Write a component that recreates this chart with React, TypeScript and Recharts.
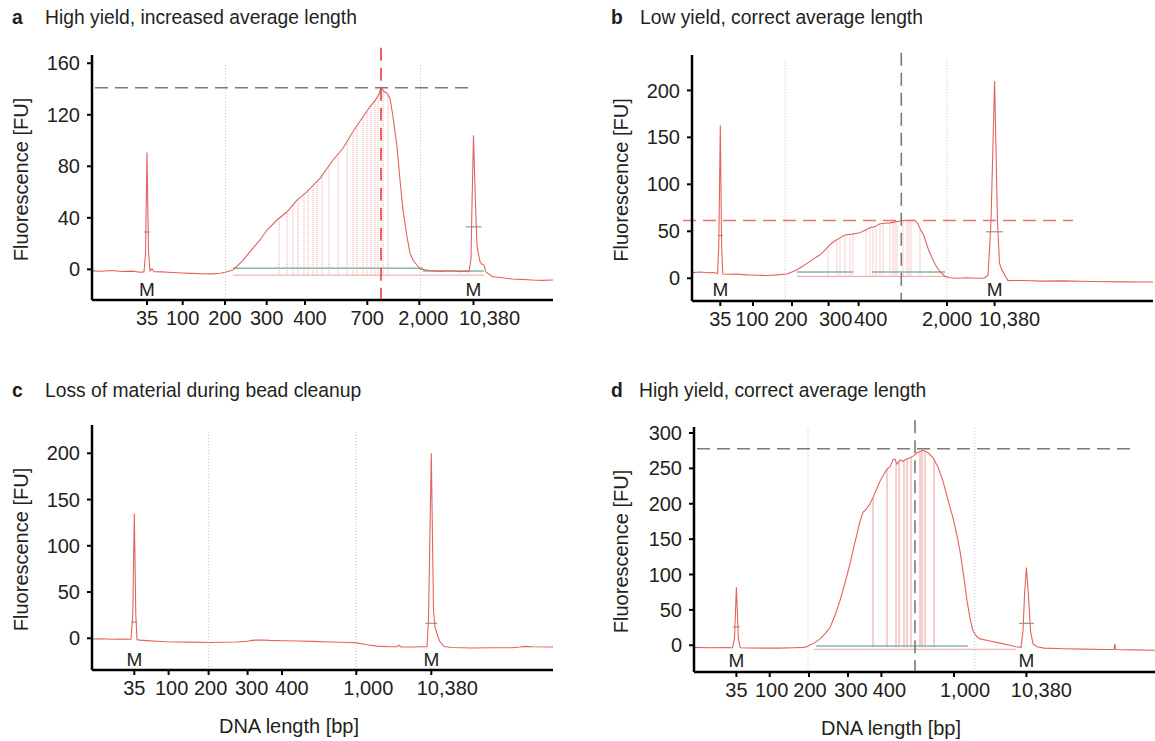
import { LineChart, Line, XAxis, YAxis, ReferenceLine, ReferenceDot } from "recharts"

const FONT = '"Liberation Sans", Arial, Helvetica, sans-serif'
const INK = "#231f20"
const TRACE = "#e2635f"
const CUT = "#eea3a0"
const GRID = "#bcc2de"
const GREY_DASH = "#7a7a7a"
const RED_DASH = "#ea3c3c"
const GREEN = "#86b5aa"
const MARK_TICK = "#8f9a9a"

// x values are migration position along the run (arbitrary units, per panel)

// ---- panel a: high yield, increased average length
const aTime = [0, 10, 20, 30, 40, 48, 52, 53.5, 55, 56.5, 58, 60, 62, 70, 80, 90, 100, 110, 120, 128, 133, 141, 151, 158, 168, 175, 185, 195, 205, 215, 228, 241, 251, 261, 271, 278, 283, 285, 287, 289, 292, 295, 298, 301, 305, 308, 311, 315, 318, 321, 328, 338, 348, 358, 368, 374, 377, 379, 380, 381.5, 383, 385, 388, 390, 392, 394, 400, 410, 420, 430, 440, 450, 461]
const aSignal = [-1.2, -1.5, -0.9, -1.7, -1.4, -2.2, -2.0, 12, 90.7, 14, -1.2, 0.4, -1.8, -2.0, -2.4, -2.8, -3.1, -3.4, -3.5, -3.0, -2.3, -0.5, 7, 13.7, 22.8, 30.5, 38.3, 44.7, 53.8, 60.3, 70.7, 84.9, 94, 107, 118.5, 126.3, 131, 133.5, 136, 141, 138, 136.7, 132.8, 118.5, 95.2, 69.4, 46, 25.3, 12.4, 7.2, 0.2, -1, -1.6, -1.1, -1.8, -1.4, -2, 8, 50, 104, 62, 18, 6, 4, 3.3, -2, -5.5, -6.5, -7.5, -7.8, -8.3, -8.6, -8.3]
const aTickPos = [55, 90.7, 133, 174.7, 213, 275.3, 327.3, 381.5]
const aTickLabels = ["35", "100", "200", "300", "400", "700", "2,000", "10,380"]
const aFuTicks = [0, 40, 80, 120, 160]
const aGrid = [133.5, 328.5]
const aMarkers = [55, 381.5]
const aMarkerLevel = [29, 33]
const aCuts = [187, 195, 201, 206, 212, 216, 221, 225, 230, 237, 246, 255, 261, 265, 271, 275, 279, 283, 286, 291, 296]
const aMode = 289
const aModeHeight = 141

// ---- panel b: low yield, correct average length
const bTime = [0, 8, 16, 22, 25.5, 26.8, 28.3, 29.6, 30.8, 35, 45, 55, 65, 75, 85, 95, 103, 108, 118, 128, 133, 138, 143, 148, 153, 160, 168, 173, 178, 183, 188, 193, 198, 203, 208, 213, 218, 223, 226, 228, 232, 236, 240, 243, 248, 253, 258, 265, 275, 285, 292, 296, 299, 302.6, 305.5, 307.5, 310, 311, 313, 316, 330, 350, 370, 400, 430, 461]
const bSignal = [6, 6.6, 5.8, 6.2, 5, 35, 163, 35, 4.5, 4.2, 4.4, 3.6, 3.2, 3, 3.6, 4.5, 8, 11, 18, 25, 30, 36, 40, 43, 46, 47, 48.4, 51, 53.7, 55, 58, 58.5, 59, 60, 61, 61.5, 61.8, 61.5, 58, 53, 45, 32, 22, 15, 7, 2, 0.5, 0, 0.6, 0, 0.2, 3, 60, 210, 60, 16, 8, 7, 3, -2.5, -2.4, -3, -2.8, -3.4, -3.8, -4]
const bTickPos = [28.3, 61, 100, 136.6, 166.6, 255, 302.6]
const bTickLabels = ["35", "100", "200", "300", "400", "2,000", "10,380"]
const bFuTicks = [0, 50, 100, 150, 200]
const bGrid = [93.3, 255]
const bMarkers = [28.3, 302.6]
const bMarkerLevel = [45.5, 49.5]
const bCuts = [136, 145, 148, 153, 158, 161, 174, 178, 181, 184, 188, 191, 198, 201, 203, 205, 211, 215, 217, 219, 228]
const bMode = 209.3
const bModeHeight = 61.5

// ---- panel c: loss of material during bead cleanup
const cTime = [0, 10, 20, 30, 39, 40.8, 42.3, 43.8, 45, 48, 55, 65, 75, 85, 100, 116, 130, 145, 155, 162, 170, 178, 190, 205, 220, 240, 255, 265, 275, 285, 295, 305, 307, 309, 320, 330, 335, 336.5, 339.3, 341.5, 343, 345, 347.5, 352, 360, 380, 400, 420, 428, 433, 440, 461]
const cSignal = [-0.8, -0.5, -1.0, -0.9, -1.1, 25, 135, 25, -1.5, -2, -2.5, -3.2, -3.8, -4, -4.2, -4.6, -4.3, -4, -3.2, -2, -1.8, -2.3, -2.6, -3, -3.3, -4, -4.5, -5, -7, -8.5, -9, -9.2, -7.5, -9.3, -9.4, -9.2, -9, 20, 200, 30, 12, 5, -3, -9, -10, -10.5, -10.2, -10.2, -9.5, -8.8, -9.2, -9.5]
const cTickPos = [42.3, 76.6, 116.6, 155.6, 190, 264.3, 339.3]
const cTickLabels = ["35", "100", "200", "300", "400", "1,000", "10,380"]
const cFuTicks = [0, 50, 100, 150, 200]
const cGrid = [116.6, 264.3]
const cMarkers = [42.3, 339.3]
const cMarkerLevel = [17.5, 16.2]

// ---- panel d: high yield, correct average length
const dTime = [0, 15, 30, 38.5, 40.5, 42.4, 44.3, 46.3, 55, 70, 85, 100, 110, 114, 120, 126, 131, 136, 141, 146, 151, 156, 160, 163, 166, 169, 172, 176, 179, 183, 186, 190, 193, 196, 199, 201, 203, 206, 209, 212, 216, 220, 223, 226, 229, 232, 235, 239, 244, 249, 254, 259, 263, 266, 270, 273, 276, 279, 283, 286, 296, 306, 316, 322, 327, 329, 330.5, 332.4, 334.5, 336.5, 339, 343, 350, 370, 390, 410, 420, 420.8, 421.6, 440, 460.7]
const dSignal = [-3, -3.5, -3.2, -3.5, 10, 82, 10, -3.5, -3.8, -4, -4, -3.5, -3, -1, 3, 9, 16, 25, 42, 63, 88, 115, 140, 157, 175, 188, 192, 200, 209, 222, 232, 242, 249, 252, 262, 263, 256, 262, 260, 263, 265, 268, 272, 274, 275.5, 274, 271, 265, 252, 232, 205, 180, 155, 133, 95, 63, 38, 20, 12, 9, 6, 3, 0, -2, -3, 20, 70, 110, 70, 20, 2, -2, -4, -5, -5.5, -6, -6, 2, -6, -6.5, -7]
const dTickPos = [42.4, 75.7, 115, 154, 187.4, 260, 332.4]
const dTickLabels = ["35", "100", "200", "300", "400", "1,000", "10,380"]
const dFuTicks = [0, 50, 100, 150, 200, 250, 300]
const dGrid = [114, 280.7]
const dMarkers = [42.4, 332.4]
const dMarkerLevel = [26, 31]
const dCuts = [179, 193, 202, 205, 210, 213, 217, 226, 228, 231, 240]
const dMode = 221
const dModeHeight = 277.8

type Seg = [number, number, number] // start, end, level

type PanelProps = {
  left: number
  top: number
  width: number
  height: number
  margin: { top: number; right: number; bottom: number; left: number }
  yAxisWidth: number
  xAxisHeight: number
  time: number[]
  signal: number[]
  xMax: number
  yDomain: [number, number]
  fuTicks: number[]
  tickPos: number[]
  tickLabels: string[]
  labelShift: number[]
  grid: number[]
  gridTop: number
  markers: number[]
  markerLevel: number[]
  markerHalf: number[]
  mLevel: number
  cuts?: number[]
  cutBase?: number
  cutDotted?: boolean
  greens?: Seg[]
  boxes?: Seg[]
  vDash?: { x: number; from: number; to: number; color: string }
  hDash?: { y: number; from: number; to: number; color: string }
  xTitle?: boolean
}

function traceAt(time: number[], signal: number[], t: number) {
  for (let i = 1; i < time.length; i++) {
    if (time[i] >= t) {
      const f = (t - time[i - 1]) / (time[i] - time[i - 1])
      return signal[i - 1] + f * (signal[i] - signal[i - 1])
    }
  }
  return signal[signal.length - 1]
}

const yTitle = (props: any) => {
  const vb = props.viewBox
  const x = vb.x + 21
  const y = vb.y + vb.height / 2 + 2
  return (
    <text x={x} y={y} transform={`rotate(-90 ${x} ${y})`} textAnchor="middle" dominantBaseline="central" fontSize={20} fill={INK} fontFamily={FONT}>
      Fluorescence [FU]
    </text>
  )
}

const xTitle = (props: any) => {
  const vb = props.viewBox
  return (
    <text x={vb.x + 197} y={vb.y + 56} textAnchor="middle" dominantBaseline="central" fontSize={20} fill={INK} fontFamily={FONT}>
      DNA length [bp]
    </text>
  )
}

const mShape = (props: any) => (
  <text x={props.cx} y={props.cy} textAnchor="middle" dominantBaseline="central" fontSize={19} fill={INK} fontFamily={FONT}>
    M
  </text>
)

// size labels were set by hand in the figure, a few sit right of their tick
const sizeTick = (pos: number[], labels: string[], shift: number[]) => (props: any) => {
  const i = pos.indexOf(props.payload.value)
  return (
    <text x={props.x + (shift[i] ?? 0)} y={props.y} dy="0.71em" textAnchor="middle" fontSize={20} fill={INK} fontFamily={FONT}>
      {labels[i]}
    </text>
  )
}

function Panel(p: PanelProps) {
  const data = p.time.map((t, i) => ({ t, fu: p.signal[i] }))
  return (
    <div style={{ position: "absolute", left: p.left, top: p.top }}>
      <LineChart width={p.width} height={p.height} data={data} margin={p.margin}>
        <XAxis
          type="number"
          dataKey="t"
          domain={[0, p.xMax]}
          allowDataOverflow
          ticks={p.tickPos}
          interval={0}
          height={p.xAxisHeight}
          tickSize={5}
          tickMargin={6}
          tick={sizeTick(p.tickPos, p.tickLabels, p.labelShift)}
          tickLine={{ stroke: "#000", strokeWidth: 2 }}
          axisLine={{ stroke: "#000", strokeWidth: 2.5 }}
          label={p.xTitle ? { content: xTitle } : undefined}
        />
        <YAxis
          type="number"
          domain={p.yDomain}
          allowDataOverflow
          ticks={p.fuTicks}
          interval={0}
          width={p.yAxisWidth}
          tickSize={5}
          tickMargin={7}
          tick={{ fill: INK, fontSize: 20, fontFamily: FONT }}
          tickLine={{ stroke: "#000", strokeWidth: 2 }}
          axisLine={{ stroke: "#000", strokeWidth: 2.5 }}
          label={{ content: yTitle }}
        />
        {p.grid.map((g) => (
          <ReferenceLine key={`g${g}`} segment={[{ x: g, y: p.gridTop }, { x: g, y: p.yDomain[0] }]} stroke={GRID} strokeWidth={1} strokeDasharray="1 2" ifOverflow="visible" />
        ))}
        {(p.boxes ?? []).map((s, i) => (
          <ReferenceLine key={`bx${i}`} segment={[{ x: s[0], y: s[2] }, { x: s[1], y: s[2] }]} stroke={CUT} strokeWidth={1} ifOverflow="visible" />
        ))}
        {(p.cuts ?? []).map((c) => (
          <ReferenceLine
            key={`c${c}`}
            segment={[{ x: c, y: p.cutBase ?? 0 }, { x: c, y: traceAt(p.time, p.signal, c) }]}
            stroke={p.cutDotted ? CUT : "#e98481"}
            strokeWidth={p.cutDotted ? 1 : 0.8}
            strokeDasharray={p.cutDotted ? "1 1" : undefined}
            ifOverflow="visible"
          />
        ))}
        {(p.greens ?? []).map((s, i) => (
          <ReferenceLine key={`gr${i}`} segment={[{ x: s[0], y: s[2] }, { x: s[1], y: s[2] }]} stroke={GREEN} strokeWidth={1.5} ifOverflow="visible" />
        ))}
        {p.markers.map((m, i) => (
          <ReferenceLine
            key={`mt${i}`}
            segment={[{ x: m - p.markerHalf[i], y: p.markerLevel[i] }, { x: m + p.markerHalf[i], y: p.markerLevel[i] }]}
            stroke={MARK_TICK}
            strokeWidth={1.2}
            ifOverflow="visible"
          />
        ))}
        <Line type="linear" dataKey="fu" stroke={TRACE} strokeWidth={1.1} dot={false} activeDot={false} isAnimationActive={false} />
        {p.hDash && (
          <ReferenceLine segment={[{ x: p.hDash.from, y: p.hDash.y }, { x: p.hDash.to, y: p.hDash.y }]} stroke={p.hDash.color} strokeWidth={1.6} strokeDasharray="13 7" ifOverflow="visible" />
        )}
        {p.vDash && (
          <ReferenceLine segment={[{ x: p.vDash.x, y: p.vDash.from }, { x: p.vDash.x, y: p.vDash.to }]} stroke={p.vDash.color} strokeWidth={1.6} strokeDasharray="13 7" ifOverflow="visible" />
        )}
        {p.markers.map((m, i) => (
          <ReferenceDot key={`m${i}`} x={m} y={p.mLevel} r={1} shape={mShape} ifOverflow="visible" />
        ))}
      </LineChart>
    </div>
  )
}

function Title({ left, top, letter, text, textLeft }: { left: number; top: number; letter: string; text: string; textLeft: number }) {
  return (
    <>
      <div style={{ position: "absolute", left, top, fontSize: 19.3, lineHeight: "22px", fontWeight: "bold", color: INK, fontFamily: FONT }}>{letter}</div>
      <div style={{ position: "absolute", left: textLeft, top, fontSize: 19.3, lineHeight: "22px", color: INK, fontFamily: FONT, whiteSpace: "nowrap" }}>{text}</div>
    </>
  )
}

export default function App() {
  return (
    <div style={{ position: "absolute", left: 0, top: 0, width: 1155, height: 741, background: "#fff", overflow: "hidden" }}>
      <Title left={12} top={7} letter="a" text="High yield, increased average length" textLeft={45} />
      <Title left={611} top={7} letter="b" text="Low yield, correct average length" textLeft={640} />
      <Title left={12} top={380} letter="c" text="Loss of material during bead cleanup" textLeft={45} />
      <Title left={611} top={380} letter="d" text="High yield, correct average length" textLeft={639} />

      <Panel
        left={0}
        top={40}
        width={560}
        height={300}
        margin={{ top: 15, right: 7, bottom: 0, left: 0 }}
        yAxisWidth={92}
        xAxisHeight={40}
        time={aTime}
        signal={aSignal}
        xMax={461}
        yDomain={[-23.8, 166.4]}
        fuTicks={aFuTicks}
        tickPos={aTickPos}
        tickLabels={aTickLabels}
        labelShift={[0, 0, 0, 0, 5, 0, 4, 16]}
        grid={aGrid}
        gridTop={158.5}
        markers={aMarkers}
        markerLevel={aMarkerLevel}
        markerHalf={[3, 8]}
        mLevel={-15.5}
        cuts={aCuts}
        cutBase={-4.5}
        cutDotted
        greens={[[141, 331, 0.8], [331, 392, -1.3]]}
        boxes={[[141, 392, -4.5]]}
        vDash={{ x: aMode, from: 172, to: -23.8, color: RED_DASH }}
        hDash={{ y: aModeHeight, from: 3, to: 380, color: GREY_DASH }}
      />
      <Panel
        left={600}
        top={40}
        width={555}
        height={301}
        margin={{ top: 15, right: 2, bottom: 0, left: 0 }}
        yAxisWidth={92}
        xAxisHeight={40}
        time={bTime}
        signal={bSignal}
        xMax={461}
        yDomain={[-24.2, 237.7]}
        fuTicks={bFuTicks}
        tickPos={bTickPos}
        tickLabels={bTickLabels}
        labelShift={[0, -1, -1, 7, 12, 0, 15]}
        grid={bGrid}
        gridTop={233}
        markers={bMarkers}
        markerLevel={bMarkerLevel}
        markerHalf={[2.5, 8.5]}
        mLevel={-12}
        cuts={bCuts}
        cutBase={2}
        cutDotted
        greens={[[105, 161, 6.7], [180, 253, 6.7]]}
        boxes={[[105, 253, 2]]}
        vDash={{ x: bMode, from: 240, to: -24.2, color: GREY_DASH }}
        hDash={{ y: bModeHeight, from: -9, to: 381, color: "#f07070" }}
      />
      <Panel
        left={0}
        top={410}
        width={560}
        height={331}
        margin={{ top: 15, right: 7, bottom: 0, left: 0 }}
        yAxisWidth={92}
        xAxisHeight={71}
        time={cTime}
        signal={cSignal}
        xMax={461}
        yDomain={[-34.3, 230.6]}
        fuTicks={cFuTicks}
        tickPos={cTickPos}
        tickLabels={cTickLabels}
        labelShift={[0, 3, 2, 4, 10, 12, 16]}
        grid={cGrid}
        gridTop={223}
        markers={cMarkers}
        markerLevel={cMarkerLevel}
        markerHalf={[3, 6]}
        mLevel={-22.7}
        xTitle
      />
      <Panel
        left={600}
        top={410}
        width={555}
        height={331}
        margin={{ top: 17, right: 0, bottom: 0, left: 0 }}
        yAxisWidth={94}
        xAxisHeight={69}
        time={dTime}
        signal={dSignal}
        xMax={461}
        yDomain={[-37.8, 308.5]}
        fuTicks={dFuTicks}
        tickPos={dTickPos}
        tickLabels={dTickLabels}
        labelShift={[0, 2, 1, 3, 8, 11, 15]}
        grid={dGrid}
        gridTop={307}
        markers={dMarkers}
        markerLevel={dMarkerLevel}
        markerHalf={[3.5, 7.5]}
        mLevel={-21.3}
        cuts={dCuts}
        cutBase={-3}
        greens={[[122, 274, -1]]}
        boxes={[[120, 322, -5.7]]}
        vDash={{ x: dMode, from: 318, to: -37.8, color: GREY_DASH }}
        hDash={{ y: dModeHeight, from: 3, to: 436, color: GREY_DASH }}
        xTitle
      />
    </div>
  )
}
